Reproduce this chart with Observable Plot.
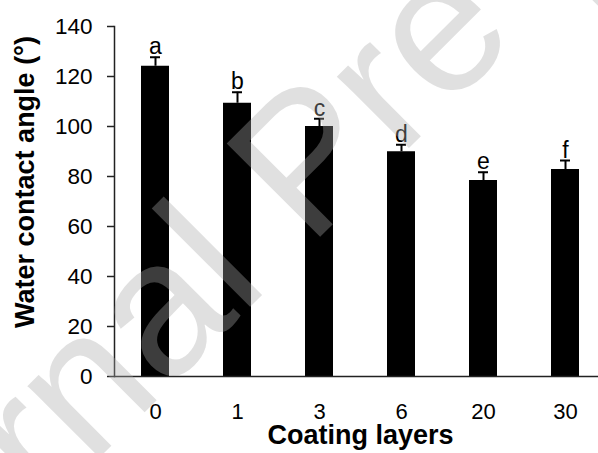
<!DOCTYPE html>
<html>
<head>
<meta charset="utf-8">
<script src="https://cdn.jsdelivr.net/npm/d3@7"></script>
<script src="https://cdn.jsdelivr.net/npm/@observablehq/plot@0.6"></script>
<style>
  html, body { margin: 0; padding: 0; background: #fff; }
  #wrap { position: relative; width: 598px; height: 453px; overflow: hidden; }
  #wm { position: absolute; left: 0; top: 0; pointer-events: none; }
</style>
</head>
<body>
<div id="wrap"></div>
<script>
// Data
const layers = ["0", "1", "3", "6", "20", "30"];
const angles = [124.1, 109.3, 100.0, 89.9, 78.4, 82.8];
const errors = [3.6, 4.4, 3.1, 2.8, 3.3, 3.6];
const letters = ["a", "b", "c", "d", "e", "f"];
const yTicks = [0, 20, 40, 60, 80, 100, 120, 140];
const xTitle = "Coating layers";
const yTitle = "Water contact angle (°)";
const watermark = "Journal Pre-proof";

const data = layers.map((l, i) => ({
  layer: l, angle: angles[i], upper: angles[i] + errors[i], letter: letters[i]
}));

const font = "'Liberation Sans', Arial, sans-serif";

const chart = Plot.plot({
  width: 598,
  height: 453,
  marginLeft: 114,
  marginRight: 0,
  marginTop: 26,
  marginBottom: 77,
  style: { fontFamily: font, fontSize: "22px", color: "#000", background: "transparent" },
  x: { type: "band", domain: layers, range: [114, 606], paddingInner: 0.66, paddingOuter: 0.33, label: null },
  y: { domain: [0, 140], label: null },
  marks: [
    Plot.barY(data, { x: "layer", y: "angle", fill: "#000" }),
    Plot.ruleX(data, { x: "layer", y1: "angle", y2: "upper", stroke: "#000", strokeWidth: 2 }),
    Plot.tickY(data, { x: "layer", y: "upper", stroke: "#000", strokeWidth: 2, insetLeft: 9, insetRight: 9 }),
    Plot.text(data, { x: "layer", y: "upper", text: "letter", dy: -3, lineAnchor: "bottom", fontSize: 23, fill: "#000" }),
    Plot.axisY({ ticks: yTicks, tickSize: 7, tickPadding: 15, fontSize: 22.5, label: null, stroke: "#222", strokeWidth: 1.5 }),
    Plot.axisX({ tickSize: 0, tickPadding: 27, fontSize: 22, label: null }),
    Plot.frame({ anchor: "left", stroke: "#222", strokeWidth: 1.5 }),
    Plot.ruleY([0], { stroke: "#222", strokeWidth: 1.5 }),
    Plot.text([xTitle], { text: d => d, frameAnchor: "bottom", textAnchor: "middle", dx: 4, dy: 67, lineAnchor: "bottom", fontSize: 27, fontWeight: "bold", fill: "#000" }),
    Plot.text([yTitle], { text: d => d, frameAnchor: "left", textAnchor: "middle", dx: -81, dy: -19.5, rotate: -90, lineAnchor: "bottom", fontSize: 27, fontWeight: "bold", fill: "#000" })
  ]
});
const wrap = document.getElementById("wrap");
wrap.appendChild(chart);

// Watermark overlay (as in the reference)
const ns = "http://www.w3.org/2000/svg";
const wm = document.createElementNS(ns, "svg");
wm.setAttribute("id", "wm");
wm.setAttribute("width", 598);
wm.setAttribute("height", 453);
const t = document.createElementNS(ns, "text");
t.setAttribute("x", -174);
t.setAttribute("y", 731);
t.setAttribute("transform", "rotate(-45 -174 731)");
t.setAttribute("font-family", font);
t.setAttribute("font-size", 192);
t.setAttribute("fill", "rgb(168,168,168)");
t.setAttribute("fill-opacity", 0.36);
t.textContent = watermark;
wm.appendChild(t);
wrap.appendChild(wm);
</script>
</body>
</html>
